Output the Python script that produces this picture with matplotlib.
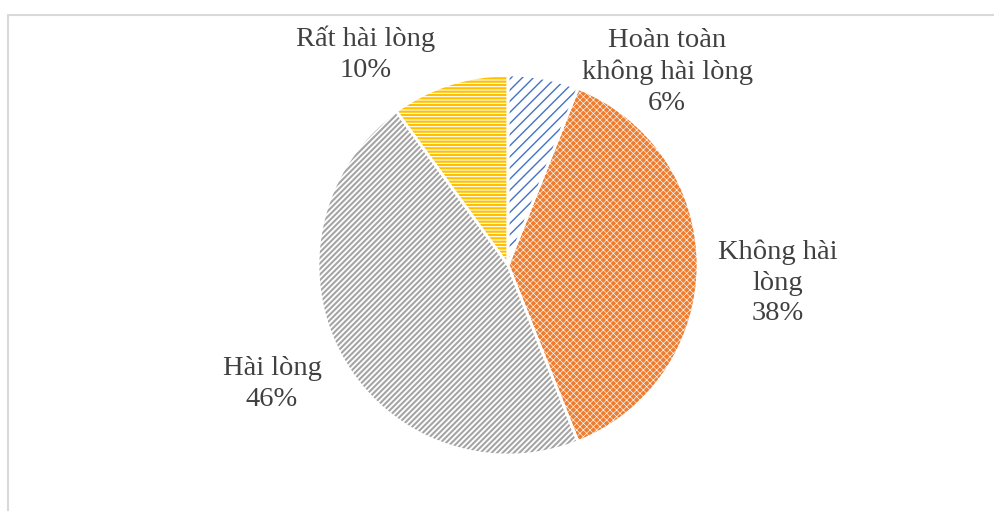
import matplotlib
matplotlib.use('Agg')
import matplotlib.pyplot as plt
from matplotlib.patches import Rectangle, Wedge

# data
labels = ['Hoàn toàn\nkhông hài lòng', 'Không hài\nlòng', 'Hài lòng', 'Rất hài lòng']
values = [6, 38, 46, 10]
colors = ['#4472C4', '#ED7D31', '#A5A5A5', '#FFC000']

# label placement (pixel coords, centre of text block)
label_pos = [(667, 72), (778, 283), (272, 384), (366, 54)]

W, H = 995, 511
plt.rcParams['font.family'] = ['Liberation Serif', 'DejaVu Serif']

fig = plt.figure(figsize=(W / 100, H / 100), dpi=100)
ax = fig.add_axes([0, 0, 1, 1])

# chart frame
ax.add_patch(Rectangle((8, -5), W, H - 15 + 5, fill=False, edgecolor='#D9D9D9', lw=1.5))

cx, cy, r = 508, H - 265, 190

# base fills: orange solid, the rest white with a coloured pattern
base_fc = ['white', colors[1], 'white', 'white']
wedges, _ = ax.pie(values, startangle=90, counterclock=False, center=(cx, cy), radius=r,
                   colors=base_fc, wedgeprops=dict(edgecolor='none', linewidth=0))

# pattern overlay, one wedge at a time so each gets its own hatch width
hatches = ['///', 'xxxxx', '//////', '-----']
hatch_colors = [colors[0], 'white', colors[2], colors[3]]
hatch_lw = [1.0, 0.45, 1.5, 1.6]
for w, h, hc, hl in zip(wedges, hatches, hatch_colors, hatch_lw):
    with plt.rc_context({'hatch.linewidth': hl}):
        p = Wedge(w.center, w.r, w.theta1, w.theta2, facecolor='none',
                  edgecolor=hc, hatch=h, linewidth=0)
        ax.add_patch(p)

# white slice separators on top
for w in wedges:
    ax.add_patch(Wedge(w.center, w.r, w.theta1, w.theta2, fill=False,
                       edgecolor='white', linewidth=2))

ax.set_xlim(0, W)
ax.set_ylim(0, H)
ax.set_aspect('equal')
ax.axis('off')

for lab, v, (px, py) in zip(labels, values, label_pos):
    ax.text(px, H - py, f'{lab}\n{v}%', ha='center', va='center', fontsize=20.5,
            color='#404040', linespacing=1.3)

plt.savefig('out.png', dpi=100)
